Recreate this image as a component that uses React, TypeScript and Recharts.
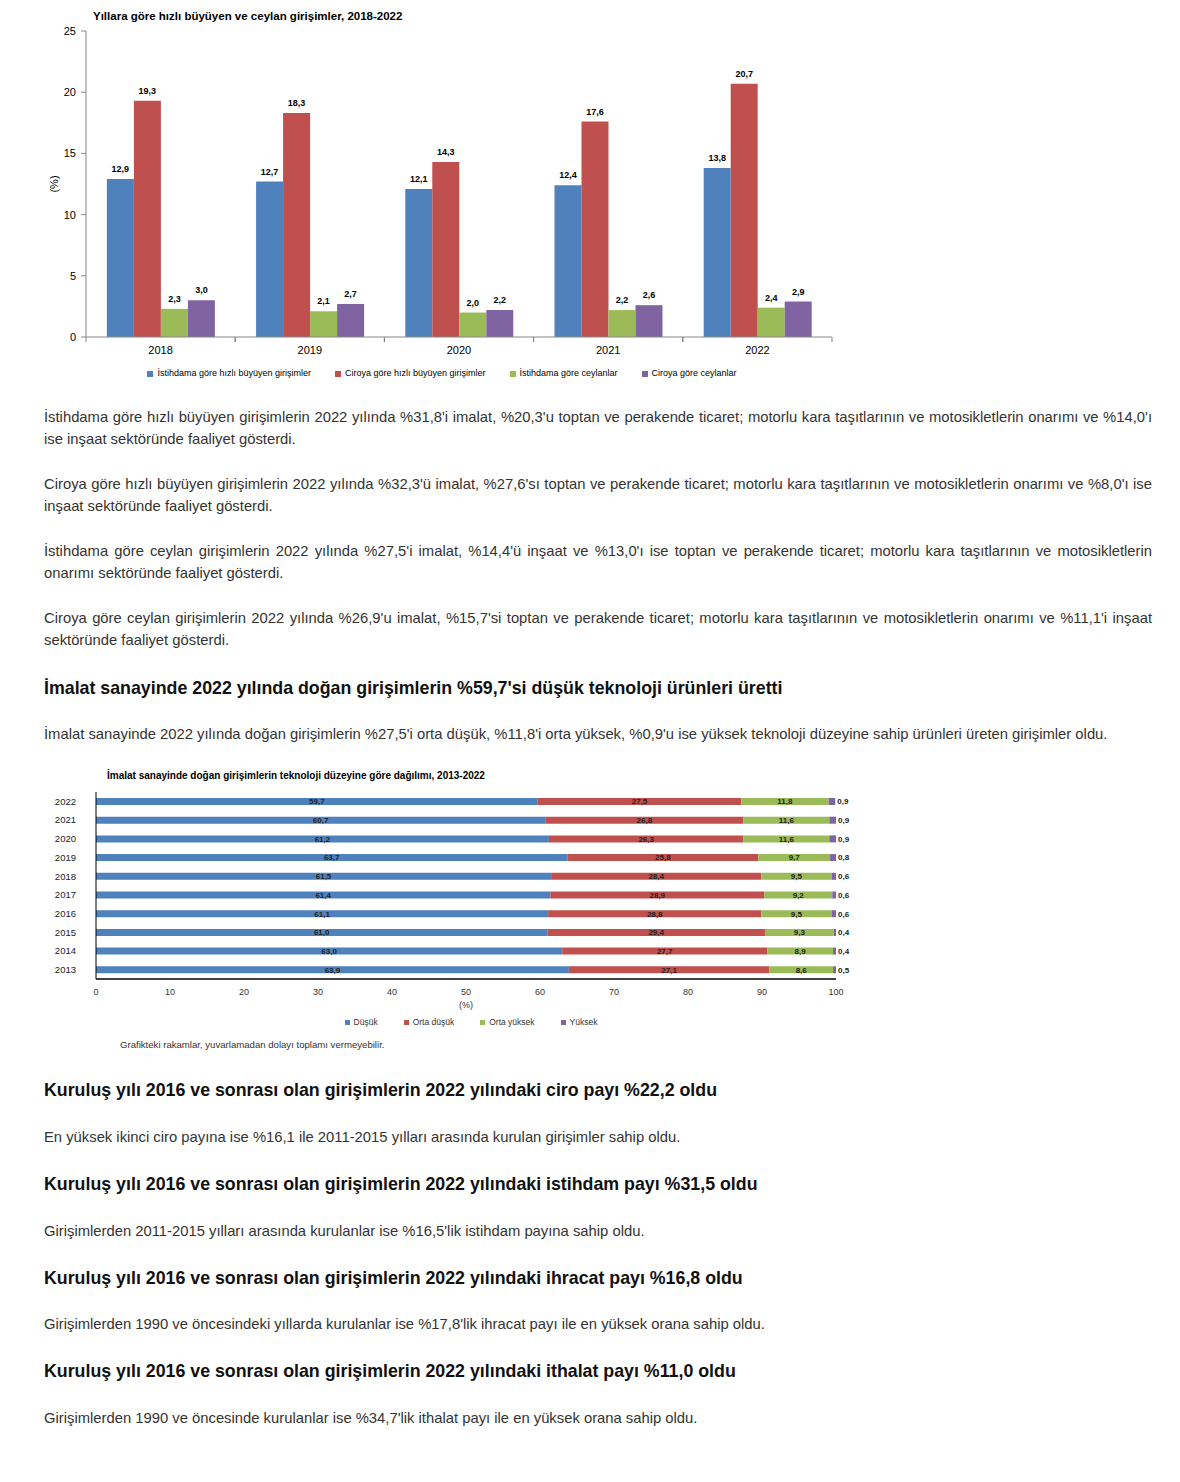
import { BarChart, Bar, XAxis, YAxis, Legend, LabelList } from 'recharts';

const years = ['2018', '2019', '2020', '2021', '2022'];
const istihdamHizli = [12.9, 12.7, 12.1, 12.4, 13.8];
const ciroHizli = [19.3, 18.3, 14.3, 17.6, 20.7];
const istihdamCeylan = [2.3, 2.1, 2.0, 2.2, 2.4];
const ciroCeylan = [3.0, 2.7, 2.2, 2.6, 2.9];
const yTicks1 = [0, 5, 10, 15, 20, 25];

const techYears = ['2022', '2021', '2020', '2019', '2018', '2017', '2016', '2015', '2014', '2013'];
const dusuk = [59.7, 60.7, 61.2, 63.7, 61.5, 61.4, 61.1, 61.0, 63.0, 63.9];
const ortaDusuk = [27.5, 26.8, 26.3, 25.8, 28.4, 28.9, 28.8, 29.4, 27.7, 27.1];
const ortaYuksek = [11.8, 11.6, 11.6, 9.7, 9.5, 9.2, 9.5, 9.3, 8.9, 8.6];
const yuksek = [0.9, 0.9, 0.9, 0.8, 0.6, 0.6, 0.6, 0.4, 0.4, 0.5];
const xTicks2 = [0, 10, 20, 30, 40, 50, 60, 70, 80, 90, 100];

const growthData = years.map((y, i) => ({
  year: y,
  istihdamHizli: istihdamHizli[i],
  ciroHizli: ciroHizli[i],
  istihdamCeylan: istihdamCeylan[i],
  ciroCeylan: ciroCeylan[i],
}));

const techData = techYears.map((y, i) => ({
  year: y,
  dusuk: dusuk[i],
  ortaDusuk: ortaDusuk[i],
  ortaYuksek: ortaYuksek[i],
  yuksek: yuksek[i],
}));

const BLUE = '#4F81BD';
const RED = '#C0504D';
const GREEN = '#9BBB59';
const PURPLE = '#8064A2';
const FONT = 'Arial, "Liberation Sans", sans-serif';

const fmt = (v: any) => Number(v).toFixed(1).replace('.', ',');

const HALF_BAND = (832 - 86) / years.length / 2;
const X_TICK_MARGIN = 8;

function YearTick(props: any) {
  const { x, y, payload } = props;
  const axisY = y - X_TICK_MARGIN;
  return (
    <g>
      <line x1={x - HALF_BAND} x2={x - HALF_BAND} y1={axisY} y2={axisY + 5} stroke="#868686" />
      <line x1={x + HALF_BAND} x2={x + HALF_BAND} y1={axisY} y2={axisY + 5} stroke="#868686" />
      <text x={x} y={y} dy={9} textAnchor="middle" fontSize={11} fill="#000" fontFamily={FONT}>
        {payload.value}
      </text>
    </g>
  );
}

const para: React.CSSProperties = {
  position: 'absolute',
  left: 44,
  width: 1108,
  margin: 0,
  fontSize: 14.8,
  lineHeight: '22px',
  color: '#333',
  textAlign: 'justify',
  fontFamily: FONT,
};

const head: React.CSSProperties = {
  position: 'absolute',
  left: 44,
  width: 1108,
  margin: 0,
  fontSize: 17.8,
  lineHeight: '22px',
  fontWeight: 'bold',
  color: '#111',
  fontFamily: FONT,
};

const barLabel = { fontSize: 9, fontWeight: 'bold', fill: '#000' };
const stackLabel = { fontSize: 8, fontWeight: 'bold', fill: '#222' };

export default function App() {
  return (
    <div style={{ position: 'absolute', left: 0, top: 0, width: 1180, height: 1482, background: '#fff', fontFamily: FONT }}>
      <div style={{ position: 'absolute', left: 93, top: 10, fontSize: 11.5, fontWeight: 'bold', color: '#000' }}>
        Yıllara göre hızlı büyüyen ve ceylan girişimler, 2018-2022
      </div>
      <div style={{ position: 'absolute', left: 0, top: 0 }}>
        <BarChart
          width={850}
          height={385}
          data={growthData}
          margin={{ top: 31, right: 18, left: 46, bottom: 7 }}
          barCategoryGap="14%"
          barGap={0}
        >
          <XAxis
            dataKey="year"
            stroke="#868686"
            tickLine={false}
            tickSize={0}
            tickMargin={X_TICK_MARGIN}
            height={31}
            tick={<YearTick />}
          />
          <YAxis
            domain={[0, 25]}
            ticks={yTicks1}
            width={40}
            stroke="#868686"
            tickSize={5}
            tickMargin={5}
            tick={{ fontSize: 11, fill: '#000', fontFamily: FONT }}
            label={{
              value: '(%)',
              content: (p: any) => (
                <text
                  x={p.viewBox.x + 12}
                  y={p.viewBox.y + p.viewBox.height / 2}
                  transform={`rotate(-90 ${p.viewBox.x + 12} ${p.viewBox.y + p.viewBox.height / 2})`}
                  textAnchor="middle"
                  fontSize={11}
                  fill="#000"
                  fontFamily={FONT}
                >
                  (%)
                </text>
              ),
            }}
          />
          <Legend
            verticalAlign="bottom"
            iconType="square"
            iconSize={6}
            itemSorter={null as any}
            wrapperStyle={{ fontSize: 9, fontFamily: FONT, color: '#000', left: 61, width: 786 }}
            formatter={(v: any) => <span style={{ color: '#000', marginRight: 14 }}>{v}</span>}
          />
          <Bar dataKey="istihdamHizli" name="İstihdama göre hızlı büyüyen girişimler" fill={BLUE} isAnimationActive={false}>
            <LabelList dataKey="istihdamHizli" position="top" offset={7} formatter={fmt} style={barLabel} />
          </Bar>
          <Bar dataKey="ciroHizli" name="Ciroya göre hızlı büyüyen girişimler" fill={RED} isAnimationActive={false}>
            <LabelList dataKey="ciroHizli" position="top" offset={7} formatter={fmt} style={barLabel} />
          </Bar>
          <Bar dataKey="istihdamCeylan" name="İstihdama göre ceylanlar" fill={GREEN} isAnimationActive={false}>
            <LabelList dataKey="istihdamCeylan" position="top" offset={7} formatter={fmt} style={barLabel} />
          </Bar>
          <Bar dataKey="ciroCeylan" name="Ciroya göre ceylanlar" fill={PURPLE} isAnimationActive={false}>
            <LabelList dataKey="ciroCeylan" position="top" offset={7} formatter={fmt} style={barLabel} />
          </Bar>
        </BarChart>
      </div>

      <p style={{ ...para, top: 406 }}>
        İstihdama göre hızlı büyüyen girişimlerin 2022 yılında %31,8'i imalat, %20,3'u toptan ve perakende ticaret; motorlu kara taşıtlarının ve motosikletlerin onarımı ve %14,0'ı ise inşaat sektöründe faaliyet gösterdi.
      </p>
      <p style={{ ...para, top: 473 }}>
        Ciroya göre hızlı büyüyen girişimlerin 2022 yılında %32,3'ü imalat, %27,6'sı toptan ve perakende ticaret; motorlu kara taşıtlarının ve motosikletlerin onarımı ve %8,0'ı ise inşaat sektöründe faaliyet gösterdi.
      </p>
      <p style={{ ...para, top: 540 }}>
        İstihdama göre ceylan girişimlerin 2022 yılında %27,5'i imalat, %14,4'ü inşaat ve %13,0'ı ise toptan ve perakende ticaret; motorlu kara taşıtlarının ve motosikletlerin onarımı sektöründe faaliyet gösterdi.
      </p>
      <p style={{ ...para, top: 607 }}>
        Ciroya göre ceylan girişimlerin 2022 yılında %26,9'u imalat, %15,7'si toptan ve perakende ticaret; motorlu kara taşıtlarının ve motosikletlerin onarımı ve %11,1'i inşaat sektöründe faaliyet gösterdi.
      </p>
      <h3 style={{ ...head, top: 677 }}>
        İmalat sanayinde 2022 yılında doğan girişimlerin %59,7'si düşük teknoloji ürünleri üretti
      </h3>
      <p style={{ ...para, top: 723 }}>
        İmalat sanayinde 2022 yılında doğan girişimlerin %27,5'i orta düşük, %11,8'i orta yüksek, %0,9'u ise yüksek teknoloji düzeyine sahip ürünleri üreten girişimler oldu.
      </p>

      <div style={{ position: 'absolute', left: 107, top: 770, fontSize: 10, fontWeight: 'bold', color: '#000' }}>
        İmalat sanayinde doğan girişimlerin teknoloji düzeyine göre dağılımı, 2013-2022
      </div>
      <div style={{ position: 'absolute', left: 0, top: 770 }}>
        <BarChart
          width={870}
          height={270}
          data={techData}
          layout="vertical"
          margin={{ top: 22, right: 34, left: 36, bottom: 13 }}
          barSize={7}
        >
          <XAxis
            type="number"
            domain={[0, 100]}
            ticks={xTicks2}
            allowDataOverflow
            stroke="#000"
            strokeWidth={1.5}
            tickLine={false}
            tickSize={0}
            tickMargin={10}
            height={38}
            tick={{ fontSize: 9, fill: '#333', fontFamily: FONT }}
            label={{ value: '(%)', position: 'insideBottom', offset: 9, fontSize: 9, fill: '#333' }}
          />
          <YAxis
            type="category"
            dataKey="year"
            width={60}
            stroke="#000"
            tickLine={false}
            tickSize={0}
            tickMargin={20}
            tick={{ fontSize: 9.5, fill: '#222', fontFamily: FONT }}
          />
          <Legend
            verticalAlign="bottom"
            iconType="square"
            iconSize={5}
            itemSorter={null as any}
            wrapperStyle={{ fontSize: 8.5, fontFamily: FONT, left: 114, width: 740 }}
            formatter={(v: any) => <span style={{ color: '#333', marginRight: 16 }}>{v}</span>}
          />
          <Bar dataKey="dusuk" name="Düşük" stackId="a" fill={BLUE} isAnimationActive={false}>
            <LabelList dataKey="dusuk" position="center" formatter={fmt} style={stackLabel} />
          </Bar>
          <Bar dataKey="ortaDusuk" name="Orta düşük" stackId="a" fill={RED} isAnimationActive={false}>
            <LabelList dataKey="ortaDusuk" position="center" formatter={fmt} style={stackLabel} />
          </Bar>
          <Bar dataKey="ortaYuksek" name="Orta yüksek" stackId="a" fill={GREEN} isAnimationActive={false}>
            <LabelList dataKey="ortaYuksek" position="center" formatter={fmt} style={stackLabel} />
          </Bar>
          <Bar dataKey="yuksek" name="Yüksek" stackId="a" fill={PURPLE} isAnimationActive={false}>
            <LabelList dataKey="yuksek" position="right" offset={2} formatter={fmt} style={stackLabel} />
          </Bar>
        </BarChart>
      </div>
      <div style={{ position: 'absolute', left: 120, top: 1039, fontSize: 9.6, color: '#333' }}>
        Grafikteki rakamlar, yuvarlamadan dolayı toplamı vermeyebilir.
      </div>

      <h3 style={{ ...head, top: 1079 }}>Kuruluş yılı 2016 ve sonrası olan girişimlerin 2022 yılındaki ciro payı %22,2 oldu</h3>
      <p style={{ ...para, top: 1126 }}>En yüksek ikinci ciro payına ise %16,1 ile 2011-2015 yılları arasında kurulan girişimler sahip oldu.</p>
      <h3 style={{ ...head, top: 1173 }}>Kuruluş yılı 2016 ve sonrası olan girişimlerin 2022 yılındaki istihdam payı %31,5 oldu</h3>
      <p style={{ ...para, top: 1220 }}>Girişimlerden 2011-2015 yılları arasında kurulanlar ise %16,5'lik istihdam payına sahip oldu.</p>
      <h3 style={{ ...head, top: 1267 }}>Kuruluş yılı 2016 ve sonrası olan girişimlerin 2022 yılındaki ihracat payı %16,8 oldu</h3>
      <p style={{ ...para, top: 1313 }}>Girişimlerden 1990 ve öncesindeki yıllarda kurulanlar ise %17,8'lik ihracat payı ile en yüksek orana sahip oldu.</p>
      <h3 style={{ ...head, top: 1360 }}>Kuruluş yılı 2016 ve sonrası olan girişimlerin 2022 yılındaki ithalat payı %11,0 oldu</h3>
      <p style={{ ...para, top: 1407 }}>Girişimlerden 1990 ve öncesinde kurulanlar ise %34,7'lik ithalat payı ile en yüksek orana sahip oldu.</p>
    </div>
  );
}
